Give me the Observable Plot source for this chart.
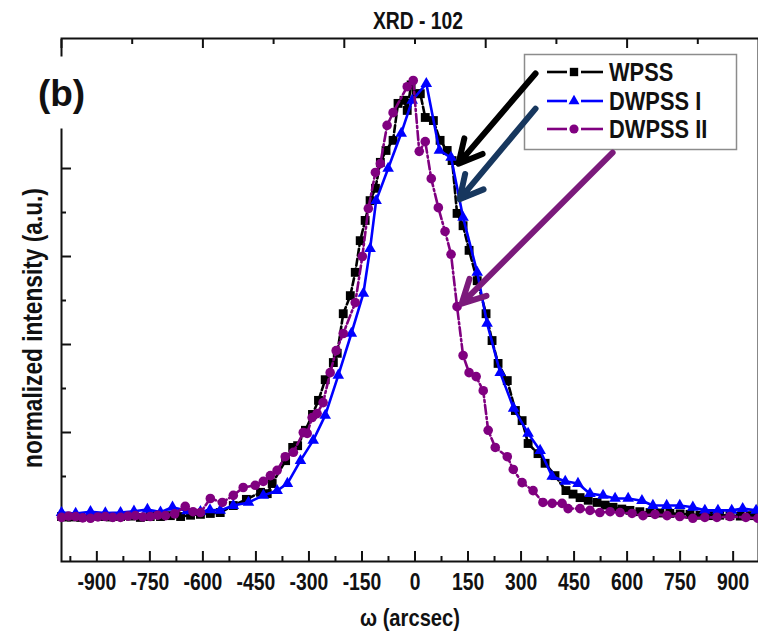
<!DOCTYPE html>
<html><head><meta charset="utf-8">
<script src="https://cdn.jsdelivr.net/npm/d3@7"></script>
<script src="https://cdn.jsdelivr.net/npm/@observablehq/plot@0.6"></script>
<style>
html,body{margin:0;padding:0;background:#fff;}
#chart{width:758px;height:639px;position:relative;overflow:hidden;}
</style></head><body><div id="chart"></div>
<script>
// ---- data ----
const title = "XRD - 102";
const panelLabel = "(b)";
const xLabel = "ω (arcsec)";
const yLabel = "normalized intensity (a.u.)";
const seriesNames = ["WPSS", "DWPSS I", "DWPSS II"];
const seriesColors = ["#000000", "#0000ff", "#800080"];
const seriesSymbols = ["square", "triangle", "circle"];
const xMajorTicks = [-900, -750, -600, -450, -300, -150, 0, 150, 300, 450, 600, 750, 900];
const xTickLabels = ["-900", "-750", "-600", "-450", "-300", "-150", "0", "150", "300", "450", "600", "750", "900"];
const xMinorTicks = [-975, -825, -675, -525, -375, -225, -75, 75, 225, 375, 525, 675, 825, 975];
const topMajorTicks = [-1000, -600, -200, 200, 600, 1000];
const topMinorTicks = [-800, -400, 0, 400, 800];
const yMajorTicks = [0, 0.2, 0.4, 0.6, 0.8, 1.0];
const yMinorTicks = [0.1, 0.3, 0.5, 0.7, 0.9];

const wpss = [[-1000,.009],[-972,.008],[-946,.007],[-918,.010],[-890,.009],[-862,.008],[-833,.009],[-805,.010],[-777,.007],[-749,.009],[-720,.009],[-692,.011],[-663,.009],[-635,.012],[-607,.014],[-579,.016],[-551,.018],[-514,.034],[-477,.048],[-437,.064],[-418,.061],[-404,.084],[-366,.136],[-346,.166],[-332,.170],[-310,.205],[-290,.241],[-273,.273],[-254,.320],[-231,.359],[-220,.380],[-203,.470],[-183,.511],[-169,.564],[-155,.636],[-141,.682],[-127,.727],[-112,.755],[-98,.814],[-82,.841],[-62,.864],[-48,.948],[-31,.955],[-22,.932],[-11,.99],[3,.97],[15,.97],[29,.916],[52,.909],[71,.864],[91,.841],[105,.818],[119,.698],[136,.670],[153,.614],[176,.545],[201,.470],[218,.409],[235,.357],[261,.318],[284,.250],[303,.227],[320,.175],[348,.152],[368,.130],[396,.102],[427,.068],[447,.060],[467,.052],[490,.046],[515,.041],[538,.035],[560,.030],[585,.026],[608,.023],[636,.020],[665,.018],[693,.017],[721,.016],[750,.015],[778,.014],[806,.012],[834,.011],[862,.012],[891,.011],[920,.010],[948,.011],[970,.010]];

const dwpss1 = [[-1000,.018],[-960,.016],[-918,.020],[-876,.017],[-833,.018],[-795,.021],[-757,.025],[-720,.019],[-686,.030],[-645,.022],[-607,.020],[-580,.024],[-551,.023],[-514,.034],[-471,.041],[-429,.057],[-390,.068],[-361,.084],[-324,.136],[-288,.182],[-254,.239],[-217,.330],[-180,.425],[-146,.516],[-127,.618],[-110,.727],[-76,.800],[-39,.880],[-8,.955],[32,.993],[69,.841],[102,.825],[136,.689],[176,.564],[204,.448],[241,.336],[279,.255],[320,.198],[354,.159],[388,.100],[425,.089],[461,.084],[495,.061],[532,.057],[566,.050],[603,.050],[642,.045],[673,.034],[712,.034],[749,.034],[786,.030],[820,.023],[857,.023],[896,.023],[927,.027],[965,.023]];

const dwpss2 = [[-1000,.007],[-980,.010],[-960,.009],[-940,.006],[-918,.005],[-897,.008],[-876,.009],[-855,.007],[-833,.007],[-812,.010],[-791,.011],[-770,.008],[-749,.009],[-728,.012],[-706,.011],[-680,.015],[-650,.032],[-628,.020],[-607,.018],[-579,.050],[-545,.041],[-514,.057],[-486,.075],[-452,.080],[-429,.089],[-409,.102],[-390,.114],[-367,.145],[-344,.155],[-316,.200],[-305,.198],[-291,.234],[-277,.243],[-260,.268],[-240,.336],[-223,.386],[-203,.425],[-169,.495],[-149,.600],[-132,.709],[-112,.791],[-98,.811],[-79,.898],[-62,.927],[-22,.986],[-5,1.0],[12,.839],[29,.861],[46,.777],[66,.711],[85,.657],[102,.605],[119,.486],[136,.375],[153,.336],[173,.327],[193,.295],[207,.205],[227,.166],[261,.145],[278,.116],[303,.086],[334,.068],[362,.041],[388,.039],[416,.039],[433,.027],[467,.027],[495,.023],[523,.018],[552,.020],[580,.018],[614,.016],[645,.011],[679,.014],[713,.011],[749,.009],[786,.005],[820,.007],[854,.007],[891,.009],[936,.007],[970,.005]];

// annotation arrows (data units): start -> tip
const arrowBlack = [{x1: 341, y1: 1.016, x2: 123, y2: 0.811}];
const arrowNavy = [{x1: 341, y1: 0.936, x2: 126, y2: 0.730}];
const arrowPurple = [{x1: 559, y1: 0.836, x2: 132, y2: 0.493}];

// ---- chart ----
const FONT = "'Liberation Sans', Arial, Helvetica, sans-serif";
const rows = a => a.map(([x, y]) => ({x, y}));
const series = [wpss, dwpss1, dwpss2].map(rows);
const dashes = ["7,3", null, "9,3,2,3"];
const radii = [5.0, 4.3, 4.8];

const lineMarks = [];
series.forEach((d, i) => {
  lineMarks.push(Plot.line(d, {x: "x", y: "y", stroke: seriesColors[i], strokeWidth: 2.6, strokeDasharray: dashes[i]}));
  lineMarks.push(Plot.dot(d, {x: "x", y: "y", symbol: seriesSymbols[i], fill: seriesColors[i], stroke: "none", r: radii[i]}));
});

const arrowOpts = {x1: "x1", y1: "y1", x2: "x2", y2: "y2", strokeWidth: 6, headLength: 6.5, headAngle: 55};

const plot = Plot.plot({
  width: 758, height: 639,
  marginLeft: 61, marginRight: 0, marginTop: 38, marginBottom: 78,
  style: {fontFamily: FONT, background: "white", overflow: "hidden", color: "#111"},
  x: {domain: [-1000, 1000], range: [61, 768], label: null},
  y: {domain: [-0.0932, 1.0955], range: [561, 38], label: null},
  marks: [
    Plot.frame({stroke: "#111", strokeWidth: 2}),
    Plot.axisX({anchor: "bottom", ticks: xMajorTicks, tickSize: -10, tickPadding: 22, strokeWidth: 2,
      tickFormat: d => xTickLabels[xMajorTicks.indexOf(d)], fontSize: 23, fontWeight: "bold", label: null}),
    Plot.axisX({anchor: "bottom", ticks: xMinorTicks, tickSize: -5, strokeWidth: 2, tickFormat: () => "", label: null}),
    Plot.axisX({anchor: "top", ticks: topMajorTicks, tickSize: -9, strokeWidth: 2, tickFormat: () => "", label: null}),
    Plot.axisX({anchor: "top", ticks: topMinorTicks, tickSize: -5, strokeWidth: 2, tickFormat: () => "", label: null}),
    Plot.axisY({anchor: "left", ticks: yMajorTicks, tickSize: -10, strokeWidth: 2, tickFormat: () => "", label: null}),
    Plot.axisY({anchor: "left", ticks: yMinorTicks, tickSize: -5, strokeWidth: 2, tickFormat: () => "", label: null}),
    ...lineMarks,
    Plot.frame({fill: "white", stroke: "none", insetLeft: -21, insetRight: 663, insetTop: 18, insetBottom: 433}),
    Plot.text([panelLabel], {text: d => d, frameAnchor: "top-left", dx: 0, dy: 56, fontSize: 37, fontWeight: "bold", textAnchor: "middle", lineAnchor: "middle", fill: "#111"}),
    Plot.text([title], {text: d => d, frameAnchor: "top", dx: 8, dy: -17, fontSize: 23, fontWeight: "bold", lineAnchor: "middle", fill: "#111"}),
    Plot.text([xLabel], {text: d => d, frameAnchor: "bottom", dy: 57, fontSize: 24, fontWeight: "bold", lineAnchor: "middle", fill: "#111"}),
    Plot.text([yLabel], {text: d => d, frameAnchor: "left", dx: -28, dy: 28, rotate: -90, fontSize: 27, fontWeight: "bold", textAnchor: "middle", lineAnchor: "middle", fill: "#111"}),
    Plot.arrow(arrowBlack, {...arrowOpts, stroke: "#000000"}),
    Plot.arrow(arrowNavy, {...arrowOpts, stroke: "#17375e"}),
    Plot.arrow(arrowPurple, {...arrowOpts, stroke: "#7b1a7b"})
  ]
});

document.getElementById("chart").appendChild(plot);

// ---- legend ----
const svg = d3.select(plot);
const lg = svg.append("g").attr("class", "legend");
lg.append("rect").attr("x", 524.5).attr("y", 54.5).attr("width", 212).attr("height", 95)
  .attr("fill", "white").attr("stroke", "#8c8c8c").attr("stroke-width", 1.5);
const rowY = [72, 101, 129];
const symTypes = [d3.symbolSquare, d3.symbolTriangle, d3.symbolCircle];
const symSizes = [70, 52, 66];
seriesNames.forEach((name, i) => {
  const g = lg.append("g").attr("transform", `translate(0,${rowY[i]})`);
  g.append("line").attr("x1", 547).attr("x2", 567).attr("y1", 0).attr("y2", 0).attr("stroke", seriesColors[i]).attr("stroke-width", 2.6);
  g.append("line").attr("x1", 581).attr("x2", 603).attr("y1", 0).attr("y2", 0).attr("stroke", seriesColors[i]).attr("stroke-width", 2.6);
  g.append("path").attr("transform", "translate(574,0)").attr("d", d3.symbol(symTypes[i], symSizes[i])()).attr("fill", seriesColors[i]);
  g.append("text").attr("class", "narrow").attr("x", 609).attr("y", 0).attr("dy", "0.36em").attr("text-anchor", "start")
    .attr("font-size", 26).attr("font-weight", "bold")
    .attr("font-family", FONT).attr("fill", "#111").text(name);
});
svg.selectAll('g[aria-label="arrow"]').raise();

// condensed lettering (the original uses a narrow bold face)
function condense(sel, k) {
  sel.each(function() {
    const L = this.getComputedTextLength();
    if (L > 0) {
      this.setAttribute("textLength", (L * k).toFixed(1));
      this.setAttribute("lengthAdjust", "spacingAndGlyphs");
    }
  });
}
condense(svg.selectAll('g[aria-label="x-axis tick label"] text'), 0.84);
condense(svg.selectAll('g[aria-label="text"] text').filter(function() { return this.textContent !== panelLabel; }), 0.84);
condense(svg.selectAll("text.narrow"), 0.84);
</script>
</body></html>
